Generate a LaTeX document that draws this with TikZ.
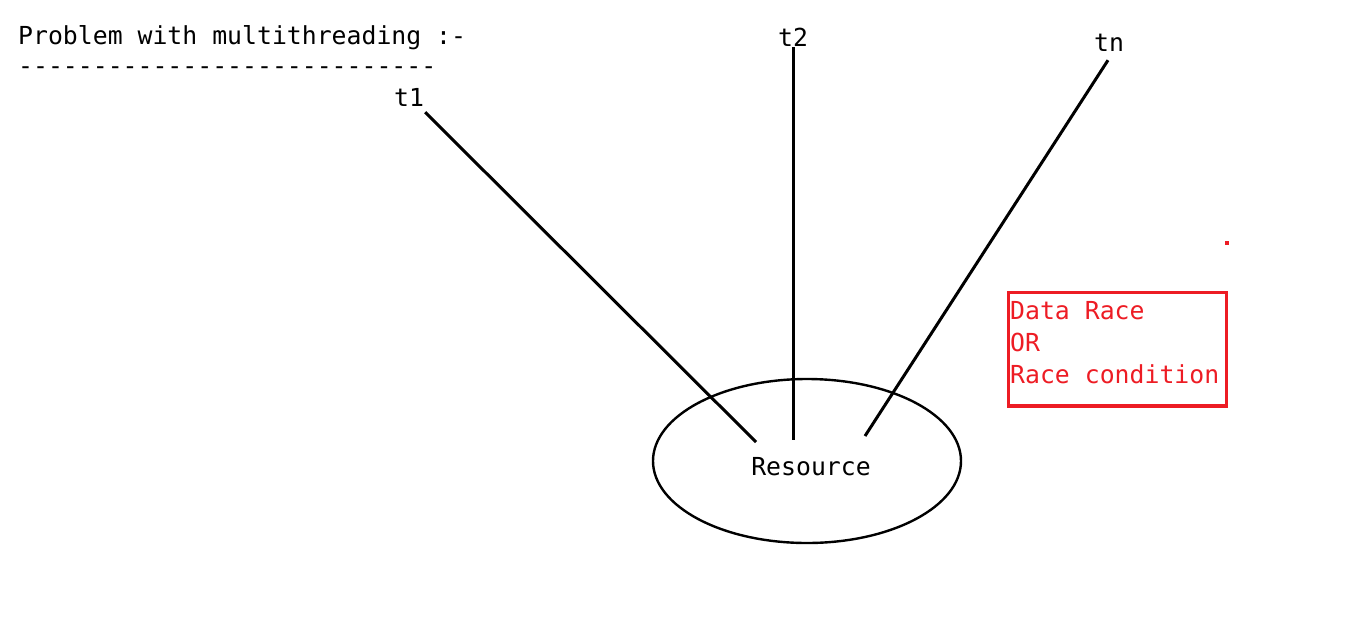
\documentclass[tikz,border=0pt]{standalone}
\usepackage{fontspec}
\setmonofont{DejaVu Sans Mono}
\usepackage{xcolor}
\definecolor{paintred}{RGB}{237,28,36}
\usetikzlibrary{shapes.geometric}
\tikzset{
	mono/.style={font=\ttfamily\fontsize{24.8}{32}\selectfont, inner sep=0pt},
	thread/.style={line width=3pt},
	resource/.style={ellipse, draw, line width=2.4pt, minimum width=308pt, minimum height=164pt, inner sep=0pt},
	racebox/.style={draw=paintred, line width=3.4pt, minimum width=218pt, minimum height=113.5pt, inner sep=0pt},
}

\begin{document}
\begin{tikzpicture}[x=1pt,y=-1pt]
			\useasboundingbox (0,0) rectangle (1353,622);
			% heading
			\node[mono, anchor=base west] (title) at (18,44) {Problem with multithreading :-};
			\node[mono, anchor=base west] (rule) at (18,74) {----------------------------};
			
			% threads
			\node[mono, anchor=base] (t1) at (409,106) {t1};
			\node[mono, anchor=base] (t2) at (793,46) {t2};
			\node[mono, anchor=base] (tn) at (1109,51) {tn};
			
			% shared resource
			\node[resource] (res) at (807,461) {};
			\node[mono, anchor=base] (restext) at (811,475) {Resource};
			\coordinate (e1) at (756,442);
			\coordinate (e2) at (793,440);
			\coordinate (en) at (865,436);
			
			\draw[thread] ([shift={(1,6)}]t1.south east) -- (e1);
			\draw[thread] ([shift={(0,1)}]t2.south) -- (e2);
			\draw[thread] ([shift={(-1,9)}]tn.south) -- (en);
			
			% note
			\node[racebox] (race) at (1117.5,349.25) {};
			\node[mono, text=paintred, anchor=base west, align=left] (racetext) at (1010,383) {Data Race\\OR\\Race condition};
			\fill[paintred] (1225,241) rectangle (1229,245);
		\end{tikzpicture}
\end{document}
